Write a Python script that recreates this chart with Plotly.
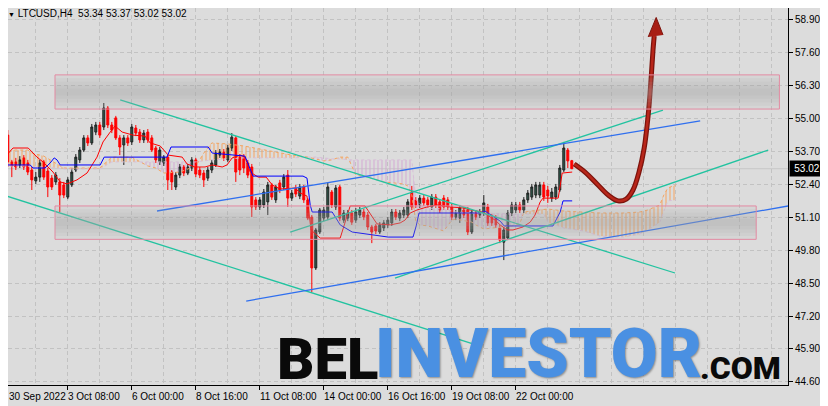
import pandas as pd
import plotly.graph_objects as go

# ---------------- data ----------------
T0 = pd.Timestamp("2022-09-30 16:00")   # first H4 bar of the window
BAR_HOURS = 4

OPEN = [53.09, 54.35, 53.29, 53.29, 53.17, 53.45, 53.25, 52.97, 52.54, 52.69,
        53.29, 52.93, 52.65, 52.50, 52.50, 52.38, 51.90, 52.38, 52.97, 53.37,
        53.76, 54.24, 54.04, 54.47, 54.75, 54.67, 55.42, 54.75, 55.03, 54.24,
        53.96, 54.24, 54.08, 54.63, 54.47, 54.16, 54.47, 54.24, 53.84, 53.29,
        53.25, 53.48, 52.89, 52.30, 52.77, 53.09, 52.85, 53.05, 53.37, 52.97,
        52.85, 52.65, 52.97, 53.17, 53.56, 53.68, 53.37, 53.84, 54.24, 53.48,
        53.48, 53.25, 53.09, 51.79, 51.51, 51.59, 51.71, 52.38, 51.79, 52.46,
        52.30, 52.77, 51.86, 52.26, 51.94, 52.30, 51.79, 51.11, 49.10, 50.52,
        51.07, 51.11, 52.10, 51.51, 52.30, 50.99, 51.07, 51.27, 50.99, 51.19,
        51.31, 51.19, 50.72, 50.76, 50.52, 50.68, 50.80, 50.88, 51.31, 51.07,
        51.19, 51.19, 52.10, 51.79, 51.59, 51.86, 51.79, 51.51, 51.90, 51.71,
        51.86, 51.79, 51.51, 51.11, 51.07, 51.39, 51.39, 50.52, 51.27, 51.19,
        51.27, 51.51, 51.11, 51.07, 50.68, 50.12, 50.28, 51.27, 51.39, 51.59,
        51.39, 51.79, 51.90, 51.98, 51.98, 52.38, 52.18, 51.86, 51.90, 52.18,
        52.97, 53.76, 53.34]
HIGH = [54.95, 54.55, 53.37, 53.45, 53.52, 53.56, 53.37, 53.09, 52.89, 53.37,
        53.37, 53.05, 52.77, 52.89, 52.65, 52.50, 52.69, 53.05, 53.60, 53.88,
        54.35, 54.35, 54.79, 54.87, 54.87, 55.62, 55.50, 54.87, 55.11, 54.35,
        54.35, 54.35, 54.79, 54.75, 54.59, 54.55, 54.59, 54.35, 53.92, 53.88,
        53.56, 53.56, 52.97, 52.89, 53.21, 53.17, 53.21, 53.48, 53.45, 53.09,
        52.97, 53.09, 53.37, 53.76, 53.80, 53.80, 53.96, 54.43, 54.31, 53.60,
        53.60, 53.37, 53.21, 51.90, 51.90, 52.22, 52.50, 52.46, 52.38, 52.58,
        52.81, 52.97, 52.18, 52.38, 52.42, 52.38, 51.86, 51.19, 50.68, 51.47,
        51.51, 52.46, 52.18, 52.38, 52.38, 51.39, 51.39, 51.39, 51.47, 51.51,
        51.43, 51.31, 50.80, 50.84, 50.91, 50.99, 51.11, 51.43, 51.43, 51.39,
        51.51, 51.82, 52.34, 51.90, 51.98, 51.98, 51.90, 52.02, 52.02, 51.82,
        51.98, 51.90, 51.63, 51.39, 51.59, 51.51, 51.51, 51.43, 51.39, 51.43,
        51.98, 51.63, 51.23, 51.19, 50.80, 50.72, 51.39, 51.71, 51.71, 51.71,
        51.90, 52.18, 52.42, 52.50, 52.50, 52.50, 52.34, 52.26, 52.42, 53.17,
        54.08, 53.84, 53.37]
LOW = [52.97, 53.09, 52.69, 52.97, 53.05, 52.97, 52.77, 52.18, 52.42, 52.50,
       52.58, 51.90, 52.18, 52.38, 51.31, 51.86, 51.82, 52.30, 52.89, 53.25,
       53.68, 53.92, 53.96, 54.35, 54.24, 54.55, 54.63, 54.43, 54.16, 53.56,
       53.17, 53.92, 53.96, 54.31, 54.04, 54.04, 54.04, 53.68, 53.25, 53.17,
       53.13, 52.18, 52.18, 52.18, 52.65, 52.73, 52.77, 52.93, 52.69, 52.65,
       52.30, 52.54, 52.85, 53.09, 53.45, 53.33, 53.29, 53.72, 52.50, 52.77,
       52.85, 52.65, 51.11, 51.39, 51.39, 51.47, 51.19, 51.79, 51.67, 52.06,
       52.18, 51.51, 51.75, 51.90, 51.82, 51.67, 50.99, 48.15, 49.02, 50.44,
       50.95, 50.99, 51.47, 51.39, 50.95, 50.88, 50.95, 50.80, 50.88, 51.07,
       50.99, 50.60, 50.08, 50.44, 50.44, 50.56, 50.68, 50.76, 50.99, 50.95,
       51.07, 51.07, 51.39, 51.47, 51.47, 51.55, 51.47, 51.39, 51.47, 51.27,
       51.39, 51.39, 50.99, 50.99, 50.88, 51.07, 50.40, 50.44, 50.99, 51.07,
       51.15, 50.76, 50.76, 50.68, 50.08, 49.41, 50.20, 51.15, 51.27, 51.27,
       51.27, 51.67, 51.79, 51.86, 51.86, 51.75, 51.67, 51.71, 51.79, 52.10,
       52.89, 53.05, 53.02]
CLOSE = [54.27, 53.29, 53.13, 53.09, 53.37, 53.09, 52.89, 52.58, 52.69, 53.25,
         52.69, 52.30, 52.30, 52.77, 51.98, 51.98, 52.58, 52.89, 53.48, 53.76,
         54.24, 54.04, 54.67, 54.75, 54.35, 55.42, 54.75, 54.55, 54.24, 53.88,
         54.24, 54.04, 54.67, 54.43, 54.16, 54.43, 54.16, 53.76, 53.37, 53.76,
         53.48, 52.58, 52.50, 52.77, 53.09, 52.85, 53.09, 53.37, 52.81, 52.77,
         52.58, 52.97, 53.25, 53.64, 53.68, 53.45, 53.84, 54.27, 52.89, 52.97,
         53.05, 52.77, 51.51, 51.51, 51.79, 52.10, 52.38, 51.90, 52.30, 52.18,
         52.69, 51.86, 52.06, 52.02, 52.30, 51.79, 51.07, 49.10, 50.60, 51.39,
         51.39, 52.30, 51.59, 52.26, 51.07, 51.27, 51.27, 50.91, 51.31, 51.39,
         51.11, 50.72, 50.52, 50.56, 50.80, 50.88, 50.99, 51.31, 51.11, 51.27,
         51.39, 51.71, 51.51, 51.59, 51.86, 51.67, 51.59, 51.90, 51.59, 51.39,
         51.51, 51.51, 51.11, 51.27, 51.47, 51.19, 50.52, 51.31, 51.11, 51.31,
         51.67, 50.88, 50.88, 50.80, 50.20, 50.60, 51.27, 51.59, 51.59, 51.39,
         51.79, 52.06, 52.30, 52.38, 52.38, 51.90, 51.94, 52.10, 52.30, 53.05,
         53.84, 53.33, 53.02]

# Ichimoku lines (bar number, price)
TENKAN_BAR = [0.1, 2.3, 6.1, 8.3, 9.8, 12.3, 14.1, 15.8, 18.3, 20.8, 23.3, 24.8, 26.6, 27.8,
              29.6, 32.3, 35.3, 36.6, 39.1, 41.1, 44.6, 45.8, 47.8, 50.3, 52.1, 54.6, 55.8,
              57.1, 59.1, 60.3, 61.6, 63.6, 65.6, 67.1, 69.1, 72.8, 74.1, 75.8, 76.8, 79.1,
              84.1, 85.3, 86.6, 90.3, 92.1, 93.3, 96.6, 99.1, 100.3, 101.6, 103.3, 105.8,
              108.3, 111.6, 114.8, 116.6, 119.8, 122.8, 124.1, 125.8, 127.3, 129.8, 131.6,
              132.8, 134.1, 134.8, 138.6, 139.6, 142.1]
TENKAN = [53.45, 53.84, 53.84, 53.48, 53.29, 52.89, 52.50, 52.42, 52.58, 52.85, 53.48, 54.08,
          54.47, 54.71, 54.47, 54.35, 54.31, 54.04, 53.92, 53.56, 53.48, 53.21, 53.09, 53.09,
          53.17, 53.09, 53.17, 53.45, 53.56, 53.48, 52.89, 52.69, 52.69, 52.38, 52.22, 52.26,
          52.06, 51.94, 50.60, 50.28, 50.28, 50.91, 51.55, 51.55, 51.15, 50.84, 50.80, 50.88,
          50.99, 51.27, 51.39, 51.51, 51.59, 51.51, 51.47, 51.39, 51.31, 50.99, 50.80, 50.60,
          50.60, 50.72, 50.91, 51.19, 51.71, 51.86, 51.86, 52.85, 52.89]
KIJUN_BAR = [0.1, 6.6, 7.3, 10.3, 11.6, 12.6, 13.3, 14.1, 24.1, 25.1, 40.8, 41.8, 51.1, 52.1,
             60.3, 61.6, 62.3, 74.8, 75.8, 76.6, 77.1, 82.1, 84.1, 87.1, 96.1, 102.3, 103.1,
             103.8, 119.1, 120.3, 124.1, 125.1, 137.3, 138.3, 139.1, 139.8, 142.1]
KIJUN = [53.17, 53.17, 53.05, 53.05, 53.25, 53.45, 53.37, 53.17, 53.17, 53.48, 53.48, 53.88,
         53.88, 53.64, 53.52, 52.97, 52.73, 52.73, 52.65, 51.59, 51.31, 51.31, 50.80, 50.52,
         50.32, 50.32, 50.76, 51.27, 51.27, 51.35, 50.95, 50.76, 50.76, 51.07, 51.31, 51.75,
         51.75]
CLOUD_BAR = [0, 2, 6, 7, 10, 13, 15, 24, 27, 32, 34, 36, 38, 40, 44, 48, 50, 52, 56, 60,
             64, 68, 72, 76, 78, 80, 82, 84, 86, 87, 88, 90, 95, 100, 101, 102, 103, 104, 106,
             110, 112, 113, 117, 118, 120, 127, 129, 130, 135, 136, 140, 145, 149, 154, 155,
             159, 161, 164, 165, 166, 168]
SPAN_A = [53.56, 53.76, 53.76, 53.64, 53.52, 53.25, 53.05, 53.05, 53.48, 53.48,
          53.29, 53.13, 53.05, 52.85, 52.89, 53.13, 53.64, 54.04, 54.00, 53.92,
          53.80, 53.68, 53.56, 53.48, 53.41, 53.33, 53.37, 53.48, 53.48, 53.13,
          52.77, 52.73, 52.50, 52.42, 52.34, 51.98, 50.95, 50.80, 50.76, 50.56,
          50.99, 51.03, 50.91, 50.80, 50.64, 50.76, 50.84, 51.31, 51.43, 51.43,
          51.35, 51.31, 51.27, 51.27, 51.27, 51.31, 51.39, 51.59, 51.98, 52.26,
          52.38]
SPAN_B = [53.13, 53.13, 53.13, 53.09, 53.09, 53.05, 53.01, 53.01, 53.29, 53.29,
          53.29, 53.29, 53.29, 53.29, 53.29, 53.29, 53.33, 53.37, 53.41, 53.45,
          53.45, 53.45, 53.45, 53.48, 53.48, 53.45, 53.41, 53.41, 53.37, 53.37,
          53.37, 53.37, 53.37, 53.37, 53.37, 53.37, 51.82, 51.63, 51.47, 51.43,
          51.35, 51.31, 51.27, 51.27, 51.27, 51.23, 51.23, 51.23, 51.23, 50.91,
          50.68, 50.56, 50.36, 50.32, 50.32, 50.44, 50.60, 50.91, 51.31, 51.75,
          51.79]

# drawn objects (bar number / price)
ZONE_BAR0 = [12.8, 12.8]
ZONE_BAR1 = [193.9, 188.1]
ZONE_LO = [55.38, 50.23]
ZONE_HI = [56.73, 51.55]

TEAL_BAR0 = [29.1, -0.9, 71.6, 97.8]
TEAL_P0 = [55.74, 52.02, 50.52, 48.70]
TEAL_BAR1 = [167.8, 117.1, 164.8, 191.1]
TEAL_P1 = [48.90, 46.11, 55.34, 53.76]
BLUE_BAR0 = [38.3, 60.6]
BLUE_P0 = [51.35, 47.79]
BLUE_BAR1 = [174.1, 196.1]
BLUE_P1 = [54.91, 51.55]

ARROW_BAR = [142.6, 145.3, 148.3, 151.1, 153.6, 155.6, 157.3, 158.8, 160.1, 161.1, 161.8, 162.3, 162.6]
ARROW_P = [53.21, 52.89, 52.42, 51.98, 51.75, 51.82, 52.18, 52.89, 53.84, 55.15, 56.53, 57.71, 58.27]
HEAD_BAR = [161.1, 163.1, 164.8]
HEAD_P = [58.23, 59.00, 58.31]

TICK_BARS = [0, 16, 32, 48, 64, 80, 96, 112, 128]
TICK_LABELS = ["30 Sep 2022", "3 Oct 08:00", "6 Oct 00:00", "8 Oct 16:00", "11 Oct 08:00",
               "14 Oct 00:00", "16 Oct 16:00", "19 Oct 08:00", "22 Oct 00:00"]
PRICE_TICKS = [44.60, 45.90, 47.20, 48.50, 49.80, 51.10, 52.40, 53.70, 55.00, 56.30, 57.60, 58.90]
LAST_PRICE = 53.02
TITLE = "LTCUSD,H4\u00a0\u00a053.34 53.37 53.02 53.02"

# visible window
VIEW_BAR0, VIEW_BAR1 = 1.05, 196.05
PRICE_MIN, PRICE_MAX = 44.473, 59.374

# ---------------- helpers ----------------
def bt(b):
    return T0 + pd.Timedelta(hours=BAR_HOURS * b)

BG = "#dcdcdc"
GRID = "#c2c2c2"
UI_FONT = "Liberation Sans, Arial, sans-serif"
UI_SIZE = 10
BIG_FONT = "Roboto, Lato, Liberation Sans, sans-serif"

fig = go.Figure()

# ---- Kumo (hatched) ----
def cloud_parts(bars, a, b):
    up = {"x": [], "y": []}
    dn = {"x": [], "y": []}
    for k in range(len(bars) - 1):
        x0, x1 = bars[k], bars[k + 1]
        a0, a1, b0, b1 = a[k], a[k + 1], b[k], b[k + 1]
        d0, d1 = a0 - b0, a1 - b1
        if d0 * d1 < 0:
            f = d0 / (d0 - d1)
            xc = x0 + f * (x1 - x0)
            yc = a0 + f * (a1 - a0)
            pieces = [((x0, a0, b0), (xc, yc, yc), d0), ((xc, yc, yc), (x1, a1, b1), d1)]
        else:
            pieces = [((x0, a0, b0), (x1, a1, b1), d0 if d0 != 0 else d1)]
        for p, q, d in pieces:
            tgt = up if d >= 0 else dn
            tgt["x"] += [bt(p[0]), bt(q[0]), bt(q[0]), bt(p[0]), bt(p[0]), None]
            tgt["y"] += [p[1], q[1], q[2], p[2], p[1], None]
    return up, dn

up, dn = cloud_parts(CLOUD_BAR, SPAN_A, SPAN_B)
for part, col in ((up, "#f4a460"), (dn, "#d2a8d2")):
    fig.add_trace(go.Scatter(
        x=part["x"], y=part["y"], mode="lines", line=dict(width=0),
        fill="toself", fillcolor="rgba(0,0,0,0)",
        fillpattern=dict(shape="|", size=4, solidity=0.28, fgcolor=col, fgopacity=0.9),
        hoverinfo="skip"))

cloud_x = [bt(b) for b in CLOUD_BAR]
fig.add_trace(go.Scatter(x=cloud_x, y=SPAN_A, mode="lines",
                         line=dict(color="#f4a460", width=1, dash="dot"), hoverinfo="skip"))
fig.add_trace(go.Scatter(x=cloud_x, y=SPAN_B, mode="lines",
                         line=dict(color="#d8bfd8", width=1, dash="dot"), hoverinfo="skip"))

# ---- Tenkan / Kijun ----
fig.add_trace(go.Scatter(x=[bt(b) for b in TENKAN_BAR], y=TENKAN, mode="lines",
                         line=dict(color="#ff0000", width=1), hoverinfo="skip"))
fig.add_trace(go.Scatter(x=[bt(b) for b in KIJUN_BAR], y=KIJUN, mode="lines",
                         line=dict(color="#0000ff", width=1), hoverinfo="skip"))

# ---- candles ----
times = [bt(i) for i in range(len(OPEN))]
fig.add_trace(go.Candlestick(
    x=times, open=OPEN, high=HIGH, low=LOW, close=CLOSE,
    increasing=dict(fillcolor="#2f5e4e", line=dict(color="#1e1e1e", width=1)),
    decreasing=dict(fillcolor="#ff0000", line=dict(color="#ff0000", width=1)),
    whiskerwidth=0, hoverinfo="skip"))

# ---- trend lines ----
for b0, p0, b1, p1 in zip(TEAL_BAR0, TEAL_P0, TEAL_BAR1, TEAL_P1):
    fig.add_trace(go.Scatter(x=[bt(b0), bt(b1)], y=[p0, p1], mode="lines",
                             line=dict(color="#22c3a0", width=1.3), hoverinfo="skip"))
for b0, p0, b1, p1 in zip(BLUE_BAR0, BLUE_P0, BLUE_BAR1, BLUE_P1):
    fig.add_trace(go.Scatter(x=[bt(b0), bt(b1)], y=[p0, p1], mode="lines",
                             line=dict(color="#2f6fef", width=1.3), hoverinfo="skip"))

# ---- forecast arrow ----
ax = [bt(b) for b in ARROW_BAR]
fig.add_trace(go.Scatter(x=ax, y=ARROW_P, mode="lines",
                         line=dict(color="#7c130c", width=5, shape="spline", smoothing=1),
                         hoverinfo="skip"))
fig.add_trace(go.Scatter(x=ax, y=ARROW_P, mode="lines",
                         line=dict(color="#b8261a", width=2.5, shape="spline", smoothing=1),
                         hoverinfo="skip"))
fig.add_trace(go.Scatter(x=[bt(b) for b in HEAD_BAR], y=HEAD_P, mode="lines",
                         fill="toself", fillcolor="#a81e14",
                         line=dict(color="#7c130c", width=1), hoverinfo="skip"))

# ---- shapes: zones (gradient) + bid line ----
shapes = [dict(type="line", xref="paper", x0=0, x1=1, yref="y", y0=LAST_PRICE, y1=LAST_PRICE,
               line=dict(color="#c6c6c6", width=1), layer="below")]
for b0, b1, lo, hi in zip(ZONE_BAR0, ZONE_BAR1, ZONE_LO, ZONE_HI):
    h = hi - lo
    for k in range(5):
        inset = k * h * 0.1
        shapes.append(dict(type="rect", xref="x", yref="y", x0=bt(b0), x1=bt(b1),
                           y0=lo + inset, y1=hi - inset, line=dict(width=0),
                           fillcolor="rgba(165,165,165,0.11)", layer="above"))
    shapes.append(dict(type="rect", xref="x", yref="y", x0=bt(b0), x1=bt(b1), y0=lo, y1=hi,
                       line=dict(color="#e38aa2", width=1), fillcolor="rgba(0,0,0,0)",
                       layer="above"))

# ---- annotations ----
ann = []
for b, lab in zip(TICK_BARS, TICK_LABELS):
    if b < VIEW_BAR0:
        pos = dict(x=0, xref="paper", xshift=-1)
    else:
        pos = dict(x=bt(b), xref="x", xshift=-2)
    ann.append(dict(**pos, y=0, yref="paper", text=lab, showarrow=False,
                    xanchor="left", yanchor="top", yshift=-4,
                    font=dict(family=UI_FONT, size=UI_SIZE, color="#000000")))
ann.append(dict(x=0, xref="paper", y=1, yref="paper", xanchor="left", yanchor="top",
                xshift=-2, yshift=2, showarrow=False,
                text='<span style="font-size:7px">\u25bc</span> ' + TITLE,
                font=dict(family=UI_FONT, size=UI_SIZE, color="#000000")))
ann.append(dict(x=1, xref="paper", y=LAST_PRICE, yref="y", xanchor="left", yanchor="middle",
                xshift=1, showarrow=False, text="53.02", bgcolor="#000000", width=32, height=13,
                font=dict(family=UI_FONT, size=UI_SIZE, color="#ffffff")))
# watermark
ann.append(dict(x=0.4090, xref="paper", y=0.0700, yref="paper", text="BEL", showarrow=False,
                xanchor="center", yanchor="middle", height=46,
                font=dict(family=BIG_FONT, size=58, color="#0a0a0a", weight=900)))
ann.append(dict(x=0.6795, xref="paper", y=0.0810, yref="paper", text="INVESTOR",
                showarrow=False, xanchor="center", yanchor="middle", height=54,
                font=dict(family=BIG_FONT, size=68, color="#4a90e2", weight=900,
                          shadow="1px 1px 2px rgba(0,0,0,0.35)")))
ann.append(dict(x=0.9385, xref="paper", y=0.0470, yref="paper", text=".COM",
                showarrow=False, xanchor="center", yanchor="middle", height=27,
                font=dict(family=BIG_FONT, size=32, color="#0a0a0a", weight=900)))

minor_bars = [b for b in range(8, 197, 8) if b not in TICK_BARS]
fig.update_layout(
    width=820, height=398, margin=dict(l=0, r=40, t=0, b=21),
    paper_bgcolor=BG, plot_bgcolor=BG, showlegend=False, hovermode=False,
    shapes=shapes, annotations=ann,
    xaxis=dict(type="date", range=[bt(VIEW_BAR0), bt(VIEW_BAR1)], rangeslider=dict(visible=False),
               tickvals=[bt(b) for b in TICK_BARS], showticklabels=False,
               ticks="outside", ticklen=4, tickcolor="#000000",
               showgrid=True, gridcolor=GRID, griddash="4px,3px", gridwidth=1,
               minor=dict(tickvals=[bt(b) for b in minor_bars], showgrid=True,
                          gridcolor=GRID, griddash="4px,3px", ticks=""),
               showline=True, linecolor="#000000", linewidth=1, mirror=False, zeroline=False),
    yaxis=dict(side="right", range=[PRICE_MIN, PRICE_MAX], tickvals=PRICE_TICKS,
               ticktext=[f"{v:.2f}" for v in PRICE_TICKS],
               ticks="outside", ticklen=4, tickcolor="#000000",
               tickfont=dict(family=UI_FONT, size=UI_SIZE, color="#000000"),
               showgrid=True, gridcolor=GRID, griddash="4px,3px", gridwidth=1,
               showline=True, linecolor="#000000", linewidth=1, mirror=True, zeroline=False),
)

fig.write_html("out.html")
